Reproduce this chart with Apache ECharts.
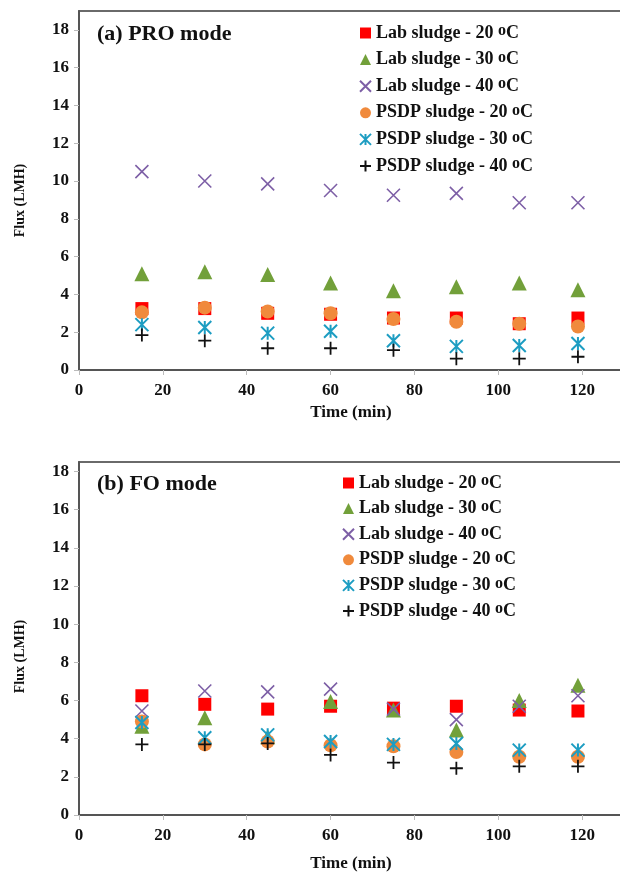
<!DOCTYPE html>
<html>
<head>
<meta charset="utf-8">
<script src="https://cdn.jsdelivr.net/npm/echarts@6/dist/echarts.min.js"></script>
<style>
  html, body { margin: 0; padding: 0; background: #fff; }
  #main { width: 620px; height: 875px; }
</style>
</head>
<body>
<div id="main"></div>
<script>
// time points (min)
var time = [15, 30, 45, 60, 75, 90, 105, 119];
var yTicks = [0, 2, 4, 6, 8, 10, 12, 14, 16, 18];
var seriesNames = [
  "Lab sludge - 20 °C",
  "Lab sludge - 30 °C",
  "Lab sludge - 40 °C",
  "PSDP sludge - 20 °C",
  "PSDP sludge - 30 °C",
  "PSDP sludge - 40 °C"
];

// (a) PRO mode
var proLab20 = [3.25, 3.25, 3.0, 2.95, 2.75, 2.75, 2.45, 2.75];
var proLab30 = [5.1, 5.2, 5.05, 4.6, 4.2, 4.4, 4.6, 4.25];
var proLab40 = [10.5, 10.0, 9.85, 9.5, 9.25, 9.35, 8.85, 8.85];
var proPsdp20 = [3.05, 3.3, 3.1, 3.0, 2.7, 2.55, 2.45, 2.3];
var proPsdp30 = [2.4, 2.25, 1.95, 2.05, 1.55, 1.25, 1.3, 1.4];
var proPsdp40 = [1.85, 1.55, 1.15, 1.15, 1.05, 0.6, 0.6, 0.7];

// (b) FO mode
var foLab20 = [6.25, 5.8, 5.55, 5.7, 5.6, 5.7, 5.5, 5.45];
var foLab30 = [4.65, 5.1, 4.1, 5.95, 5.5, 4.45, 6.0, 6.8];
var foLab40 = [5.45, 6.5, 6.45, 6.6, 5.55, 5.0, 5.7, 6.25];
var foPsdp20 = [4.9, 3.7, 3.85, 3.65, 3.6, 3.3, 3.05, 3.05];
var foPsdp30 = [4.85, 4.05, 4.2, 3.85, 3.7, 3.75, 3.4, 3.4];
var foPsdp40 = [3.7, 3.7, 3.75, 3.15, 2.75, 2.45, 2.55, 2.55];

(function () {
  var myChart = echarts.init(document.getElementById("main"), null, { renderer: "canvas" });
  var font = "'Liberation Serif', 'Times New Roman', serif";

  // marker styles, one per series
  var marks = [
    { symbol: "rect", size: 13, style: { color: "#ff0000", opacity: 1 } },
    { symbol: "triangle", size: 15, style: { color: "#72a03a", opacity: 1 } },
    { symbol: "path://M0 0 L10 10 M10 0 L0 10", size: 13,
      style: { color: "none", borderColor: "#7d5fa6", borderWidth: 1.6, opacity: 1 } },
    { symbol: "circle", size: 14, style: { color: "#f08a3c", opacity: 1 } },
    { symbol: "path://M0 0 L10 10 M10 0 L0 10 M5 0 L5 10", size: 13,
      style: { color: "none", borderColor: "#1d9dc2", borderWidth: 2, opacity: 1 } },
    { symbol: "path://M5 0 L5 10 M0 5 L10 5", size: 13,
      style: { color: "none", borderColor: "#111", borderWidth: 1.8, opacity: 1 } }
  ];

  function pairs(ys) {
    return time.map(function (t, i) { return [t, ys[i]]; });
  }

  function makeSeries(idx, lists) {
    return lists.map(function (ys, k) {
      return {
        name: seriesNames[k],
        type: "scatter",
        xAxisIndex: idx,
        yAxisIndex: idx,
        symbol: marks[k].symbol,
        symbolSize: marks[k].size,
        itemStyle: marks[k].style,
        data: pairs(ys)
      };
    });
  }

  function xAxis(idx, gap) {
    return {
      type: "value",
      gridIndex: idx,
      min: 0,
      max: 140,
      interval: 20,
      name: "Time (min)",
      nameLocation: "middle",
      nameGap: gap,
      nameTextStyle: { fontFamily: font, fontWeight: "bold", fontSize: 17, color: "#111", padding: [0, 43, 0, 0] },
      axisLine: { onZero: false, lineStyle: { color: "#555", width: 2 } },
      axisTick: { show: true, length: 5, lineStyle: { color: "#bbb" } },
      axisLabel: { margin: 12, fontFamily: font, fontWeight: "bold", fontSize: 17, color: "#111" },
      splitLine: { show: false }
    };
  }

  function yAxis(idx, max, pad) {
    return {
      type: "value",
      gridIndex: idx,
      min: 0,
      max: max,
      interval: 2,
      name: "Flux (LMH)",
      nameLocation: "middle",
      nameRotate: 90,
      nameGap: 52,
      nameTextStyle: { fontFamily: font, fontWeight: "bold", fontSize: 14, color: "#111", padding: [0, pad, 0, 0] },
      axisLine: { show: true, lineStyle: { color: "#555", width: 2 } },
      axisTick: { show: true, length: 5, lineStyle: { color: "#bbb" }, customValues: yTicks },
      axisLabel: { margin: 10, fontFamily: font, fontWeight: "bold", fontSize: 17, color: "#111", customValues: yTicks },
      splitLine: { show: false }
    };
  }

  function legend(left, top, gap) {
    return {
      orient: "vertical",
      left: left,
      top: top,
      itemWidth: 11,
      itemHeight: 11,
      itemGap: gap,
      data: seriesNames,
      selectedMode: false,
      formatter: function (name) {
        return name.replace("°C", "{s|o}C");
      },
      textStyle: {
        fontFamily: font, fontWeight: "bold", fontSize: 18, color: "#111", lineHeight: 20,
        rich: {
          s: { fontFamily: font, fontWeight: "bold", fontSize: 16, lineHeight: 8, verticalAlign: "top", color: "#111" }
        }
      }
    };
  }

  var option = {
    backgroundColor: "#fff",
    animation: false,
    title: [
      { text: "(a) PRO mode", left: 92, top: 18,
        textStyle: { fontFamily: font, fontWeight: "bold", fontSize: 22, color: "#111" } },
      { text: "(b) FO mode", left: 92, top: 468,
        textStyle: { fontFamily: font, fontWeight: "bold", fontSize: 22, color: "#111" } }
    ],
    legend: [legend(352.5, 18, 6.6), legend(335.5, 468, 5.6)],
    grid: [
      { left: 79, top: 11, height: 359, right: -46, outerBoundsMode: "none",
        show: true, borderColor: "#3a3a3a", borderWidth: 1.5 },
      { left: 79, top: 462, height: 353, right: -46, outerBoundsMode: "none",
        show: true, borderColor: "#3a3a3a", borderWidth: 1.5 }
    ],
    xAxis: [xAxis(0, 34), xAxis(1, 40)],
    yAxis: [yAxis(0, 19, 20), yAxis(1, 18.5, 36)],
    series: makeSeries(0, [proLab20, proLab30, proLab40, proPsdp20, proPsdp30, proPsdp40])
      .concat(makeSeries(1, [foLab20, foLab30, foLab40, foPsdp20, foPsdp30, foPsdp40]))
  };

  myChart.setOption(option);
  window.addEventListener("resize", function () {
    myChart.resize();
  });
})();
</script>
</body>
</html>
